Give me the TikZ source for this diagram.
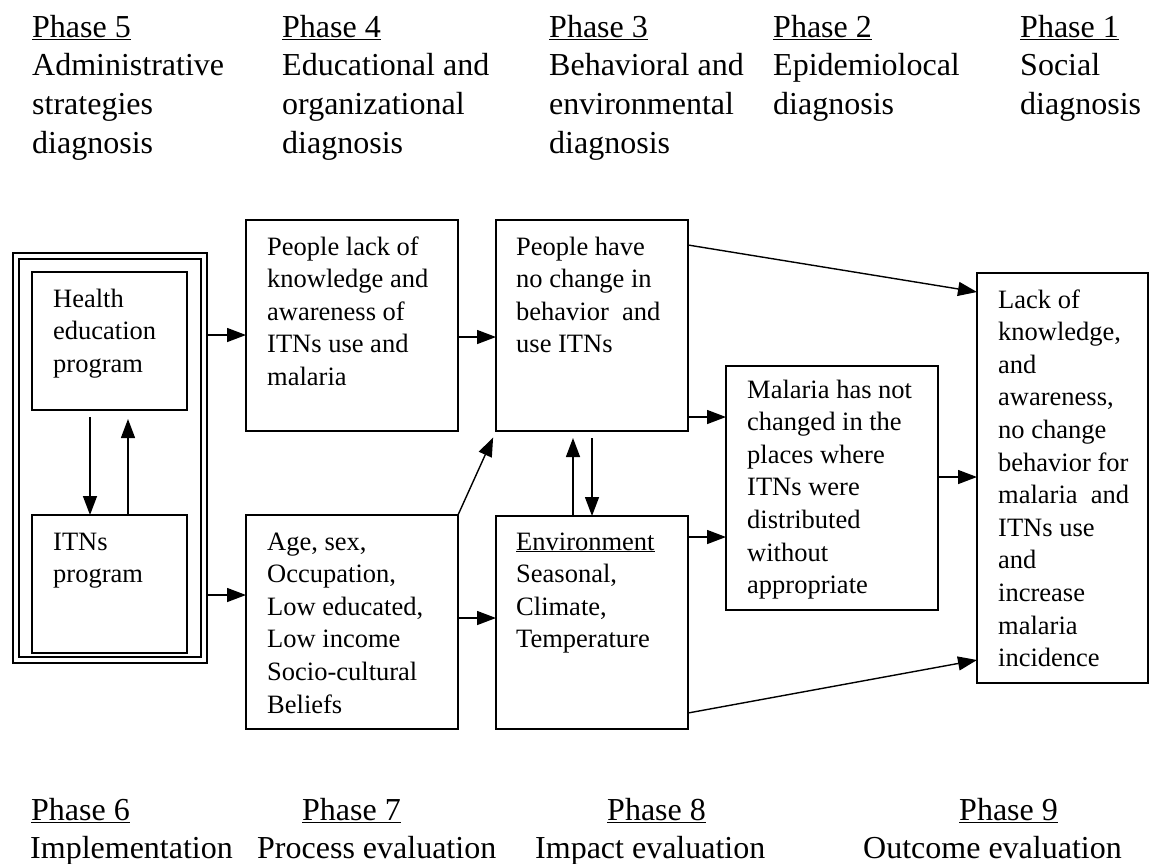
\documentclass[tikz,border=0pt]{standalone}
\usepackage{fontspec}
\setmainfont{Liberation Serif}
\usetikzlibrary{arrows.meta,calc}

% line distances of box text and of heading text
\newcommand{\boxlskip}{32.6}
\newcommand{\headlskip}{38.8}

\begin{document}
\begin{tikzpicture}[x=1pt, y=-1pt,
  box/.style={draw, line width=1.3pt, inner sep=0pt, outer sep=0pt, anchor=north west},
  txt/.style={font=\fontsize{26.5}{\boxlskip}\selectfont, align=left, inner sep=0pt, anchor=base west},
  head/.style={font=\fontsize{32}{\headlskip}\selectfont, align=left, inner sep=0pt, anchor=base west},
  arrow/.style={-{Triangle[length=19pt,width=14pt]}, line width=1.4pt}]

\useasboundingbox[fill=white] (0,0) rectangle (1150,863);

% phase headings (placed at the baseline of their last line)
\node[head] (ph5) at (32,{37+3*\headlskip}) {\underline{Phase 5}\\Administrative\\strategies\\diagnosis};
\node[head] (ph4) at (282,{37+3*\headlskip}) {\underline{Phase 4}\\Educational and\\organizational\\diagnosis};
\node[head] (ph3) at (549,{37+3*\headlskip}) {\underline{Phase 3}\\Behavioral and\\environmental\\diagnosis};
\node[head] (ph2) at (773,{37+2*\headlskip}) {\underline{Phase 2}\\Epidemiolocal\\diagnosis};
\node[head] (ph1) at (1020,{37+2*\headlskip}) {\underline{Phase 1}\\Social\\diagnosis};

\node[head] (ph6) at (31,820) {\underline{Phase 6}};
\node[head] (ph7) at (302,820) {\underline{Phase 7}};
\node[head] (ph8) at (607,820) {\underline{Phase 8}};
\node[head] (ph9) at (959,820) {\underline{Phase 9}};
\node[head] (impl) at (30,858) {Implementation};
\node[head] (proc) at (257,858) {Process evaluation};
\node[head] (impact) at (535,858) {Impact evaluation};
\node[head] (outcome) at (863,858) {Outcome evaluation};

% program frame
\node[box, line width=2.6pt, minimum width=194pt, minimum height=410pt] (frame) at (13,253) {};
\node[box, line width=1.2pt, minimum width=182pt, minimum height=398pt] (framein) at (19,259) {};
\node[box, minimum width=155pt, minimum height=138pt] (health) at (32,272) {};
\node[box, minimum width=155pt, minimum height=138pt] (itnprog) at (32,515) {};
\node[txt] (healthtxt) at (53,{307+2*\boxlskip}) {Health\\education\\program};
\node[txt] (itntxt) at (53,{550+\boxlskip}) {ITNs\\program};

% factor boxes
\node[box, minimum width=212pt, minimum height=211pt] (lackk) at (246,220) {};
\node[box, minimum width=212pt, minimum height=214pt] (ageb) at (246,515) {};
\node[box, minimum width=192pt, minimum height=211pt] (behav) at (496,220) {};
\node[box, minimum width=192pt, minimum height=213pt] (env) at (496,516) {};
\node[box, minimum width=212pt, minimum height=244pt] (mal) at (726,366) {};
\node[box, minimum width=171pt, minimum height=410pt] (outc) at (977,273) {};

\node[txt] (lackktxt) at (267,{255+4*\boxlskip}) {People lack of\\knowledge and\\awareness of\\ITNs use and\\malaria};
\node[txt] (agetxt) at (267,{550+5*\boxlskip}) {Age, sex,\\Occupation,\\Low educated,\\Low income\\Socio-cultural\\Beliefs};
\node[txt] (behavtxt) at (516,{255+3*\boxlskip}) {People have\\no change in\\behavior\ \ and\\use ITNs};
\node[txt] (envtxt) at (516,{550+3*\boxlskip}) {\underline{Environment}\\Seasonal,\\Climate,\\Temperature};
\node[txt] (maltxt) at (747,{398+6*\boxlskip}) {Malaria has not\\changed in the\\places where\\ITNs were\\distributed\\without\\appropriate};
\node[txt] (outctxt) at (998,{308+11*\boxlskip}) {Lack of\\knowledge,\\and\\awareness,\\no change\\behavior for\\malaria\ \ and\\ITNs use\\and\\increase\\malaria\\incidence};

% connectors
\draw[arrow] (health.south -| 90,0) ++(0,7) -- (itnprog.north -| 90,0);
\draw[arrow, shorten >=9pt] (itnprog.north -| 128,0) -- (health.south -| 128,0);
\draw[arrow] (frame.east |- 0,335) -- (lackk.west |- 0,335);
\draw[arrow] (frame.east |- 0,595) -- (ageb.west |- 0,595);
\draw[arrow] (lackk.east |- 0,337) -- (behav.west |- 0,337);
\draw[arrow, shorten >=7pt] (ageb.north east) -- (behav.south west);
\draw[arrow] (ageb.east |- 0,618) -- (env.west |- 0,618);
\draw[arrow, shorten >=7pt] (env.north -| 573,0) -- (behav.south -| 573,0);
\draw[arrow] (behav.south -| 592,0) ++(0,7) -- (env.north -| 592,0);
\draw[arrow] (behav.east |- 0,417) -- (mal.west |- 0,417);
\draw[arrow] (env.east |- 0,537) -- (mal.west |- 0,537);
\draw[arrow] (behav.east |- 0,245) -- (outc.west |- 0,292);
\draw[arrow] (mal.east |- 0,477) -- (outc.west |- 0,477);
\draw[arrow] (env.east |- 0,713) -- (outc.west |- 0,660);
\end{tikzpicture}
\end{document}
